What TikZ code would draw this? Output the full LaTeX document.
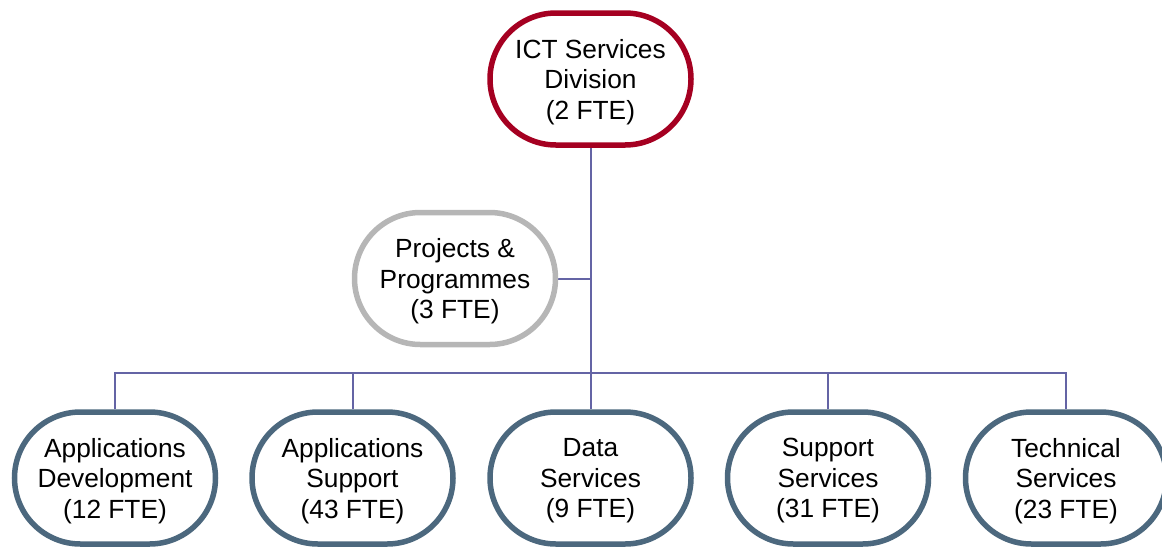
\documentclass[tikz,border=0pt]{standalone}
\usepackage{fontspec}
\setmainfont{Liberation Sans}
\usetikzlibrary{backgrounds}
\definecolor{topred}{RGB}{165,0,33}
\definecolor{unitblue}{RGB}{76,104,126}
\definecolor{projgray}{RGB}{182,182,182}
\definecolor{linkc}{RGB}{100,100,165}
\tikzset{
  unit/.style={draw, fill=white, rounded corners=66pt, minimum width=201pt, minimum height=132pt,
    inner sep=0pt, line width=5.5pt, align=center, text depth=-5pt,
    font=\fontsize{26.3}{30.5}\selectfont, text=black},
  topunit/.style={unit, draw=topred},
  bunit/.style={unit, draw=unitblue},
  punit/.style={unit, draw=projgray},
  link/.style={draw=linkc, line width=2pt}
}
\begin{document}
\begin{tikzpicture}[x=1pt,y=-1pt]
\useasboundingbox (0,0) rectangle (1162,547);
\node[topunit] (top) at (590.5,79) {ICT Services\\Division\\(2 FTE)};
\node[punit] (proj) at (455,278.5) {Projects \&\\Programmes\\(3 FTE)};
\node[bunit] (n1) at (115,478) {Applications\\Development\\(12 FTE)};
\node[bunit] (n2) at (352.5,478) {Applications\\Support\\(43 FTE)};
\node[bunit] (n3) at (590.5,478) {Data\\Services\\(9 FTE)};
\node[bunit] (n4) at (828,478) {Support\\Services\\(31 FTE)};
\node[bunit] (n5) at (1066,478) {Technical\\Services\\(23 FTE)};
\coordinate (bus) at (590.5,372.5);
\begin{scope}[on background layer]
\draw[link] (top.south) -- (n3.north);
\draw[link] (proj.east) -- (proj.east -| top.south);
\draw[link] (n1.north) |- (n5.north |- bus) -- (n5.north);
\draw[link] (n2.north) -- (n2.north |- bus);
\draw[link] (n4.north) -- (n4.north |- bus);
\end{scope}
\end{tikzpicture}
\end{document}
